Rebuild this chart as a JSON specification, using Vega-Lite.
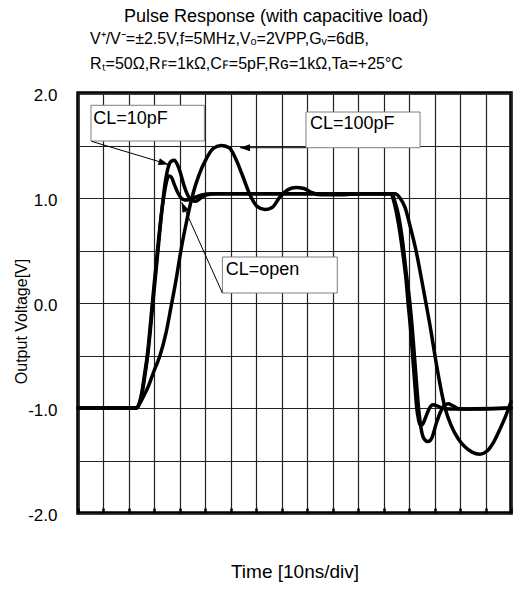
{
  "$schema": "https://vega.github.io/schema/vega-lite/v6.json",
  "background": "white",
  "padding": {"left": 11, "top": 8, "right": 2, "bottom": 2},
  "title": {"text": "Pulse Response (with capacitive load)", "anchor": "start", "frame": "group", "dx": 46, "fontSize": 18, "fontWeight": "normal", "font": "Liberation Sans", "color": "black", "offset": 3},
  "vconcat": [
    {
      "width": 433,
      "height": 420,
      "title": {
        "text": ["V⁺/V⁻=±2.5V,f=5MHz,Vₒ=2VPP,Gᵥ=6dB,", "Rₜ=50Ω,Rꜰ=1kΩ,Cꜰ=5pF,Rɢ=1kΩ,Ta=+25°C"],
        "anchor": "start", "frame": "group", "dx": 12, "fontSize": 16, "lineHeight": 25, "fontWeight": "normal", "font": "Liberation Sans", "color": "black", "offset": 14
      },
      "encoding": {
        "x": {"field": "t", "type": "quantitative",
          "scale": {"domain": [0, 17], "nice": false, "zero": false},
          "axis": {"title": "Time [10ns/div]", "values": [0,1,2,3,4,5,6,7,8,9,10,11,12,13,14,15,16,17], "grid": true, "labels": false, "ticks": true, "tickSize": -5, "tickWidth": 2.5, "tickColor": "black", "domain": false, "gridColor": "#222", "gridWidth": 1.2, "titleFontSize": 19, "titleFontWeight": "normal", "titleColor": "black", "titleFont": "Liberation Sans", "titlePadding": 48}},
        "y": {"field": "v", "type": "quantitative",
          "scale": {"domain": [-2, 2], "nice": false, "zero": false},
          "axis": {"title": "Output Voltage[V]", "values": [-2,-1.5,-1,-0.5,0,0.5,1,1.5,2], "grid": true, "ticks": false, "domain": false, "gridColor": "#222", "gridWidth": 1.2, "labelOverlap": false,
            "labelExpr": "datum.value % 1 === 0 ? (datum.value < 0 ? '-' + format(-datum.value, '.1f') : format(datum.value, '.1f')) : ''",
            "labelFontSize": 17, "labelColor": "black", "labelFont": "Liberation Sans", "labelPadding": 21, "labelOffset": 2,
            "titleFontSize": 16, "titleFontWeight": "normal", "titleColor": "black", "titleFont": "Liberation Sans", "titleX": -57, "titleY": 228, "titleAlign": "center", "titleBaseline": "middle"}}
      },
      "layer": [
        {
          "data": {"values": [
            {"s":"open","t":0,"v":-1.0},{"s":"open","t":1.0,"v":-1.0},{"s":"open","t":2.3,"v":-1.0},{"s":"open","t":2.4,"v":-0.96},{"s":"open","t":2.5,"v":-0.86},{"s":"open","t":2.6,"v":-0.7},{"s":"open","t":2.72,"v":-0.5},{"s":"open","t":2.92,"v":0.0},{"s":"open","t":3.12,"v":0.5},{"s":"open","t":3.26,"v":0.82},{"s":"open","t":3.36,"v":1.0},{"s":"open","t":3.46,"v":1.14},{"s":"open","t":3.56,"v":1.21},{"s":"open","t":3.66,"v":1.2},{"s":"open","t":3.78,"v":1.13},{"s":"open","t":3.92,"v":1.05},{"s":"open","t":4.1,"v":0.99},{"s":"open","t":4.3,"v":0.98},{"s":"open","t":4.55,"v":1.0},{"s":"open","t":4.85,"v":1.03},{"s":"open","t":5.3,"v":1.04},{"s":"open","t":8.0,"v":1.04},{"s":"open","t":12.29,"v":1.04},{"s":"open","t":12.41,"v":0.96},{"s":"open","t":12.52,"v":0.84},{"s":"open","t":12.64,"v":0.67},{"s":"open","t":12.76,"v":0.46},{"s":"open","t":12.88,"v":0.22},{"s":"open","t":12.96,"v":0.0},{"s":"open","t":13.06,"v":-0.26},{"s":"open","t":13.14,"v":-0.51},{"s":"open","t":13.22,"v":-0.76},{"s":"open","t":13.3,"v":-1.0},{"s":"open","t":13.37,"v":-1.11},{"s":"open","t":13.43,"v":-1.16},{"s":"open","t":13.51,"v":-1.16},{"s":"open","t":13.63,"v":-1.1},{"s":"open","t":13.78,"v":-1.01},{"s":"open","t":13.94,"v":-0.97},{"s":"open","t":14.1,"v":-0.98},{"s":"open","t":14.29,"v":-1.0},{"s":"open","t":14.61,"v":-1.01},{"s":"open","t":17,"v":-1.0},
            {"s":"10pF","t":0,"v":-1.0},{"s":"10pF","t":1.0,"v":-1.0},{"s":"10pF","t":2.3,"v":-1.0},{"s":"10pF","t":2.42,"v":-0.95},{"s":"10pF","t":2.53,"v":-0.84},{"s":"10pF","t":2.64,"v":-0.67},{"s":"10pF","t":2.76,"v":-0.45},{"s":"10pF","t":2.96,"v":0.05},{"s":"10pF","t":3.16,"v":0.55},{"s":"10pF","t":3.3,"v":0.9},{"s":"10pF","t":3.42,"v":1.14},{"s":"10pF","t":3.54,"v":1.29},{"s":"10pF","t":3.66,"v":1.35},{"s":"10pF","t":3.78,"v":1.36},{"s":"10pF","t":3.9,"v":1.32},{"s":"10pF","t":4.02,"v":1.24},{"s":"10pF","t":4.16,"v":1.12},{"s":"10pF","t":4.3,"v":1.03},{"s":"10pF","t":4.45,"v":0.98},{"s":"10pF","t":4.62,"v":0.97},{"s":"10pF","t":4.82,"v":1.0},{"s":"10pF","t":5.05,"v":1.03},{"s":"10pF","t":5.4,"v":1.04},{"s":"10pF","t":8.0,"v":1.04},{"s":"10pF","t":12.33,"v":1.04},{"s":"10pF","t":12.45,"v":0.96},{"s":"10pF","t":12.56,"v":0.86},{"s":"10pF","t":12.72,"v":0.63},{"s":"10pF","t":12.88,"v":0.3},{"s":"10pF","t":13.03,"v":0.0},{"s":"10pF","t":13.13,"v":-0.26},{"s":"10pF","t":13.21,"v":-0.51},{"s":"10pF","t":13.29,"v":-0.76},{"s":"10pF","t":13.37,"v":-1.0},{"s":"10pF","t":13.46,"v":-1.18},{"s":"10pF","t":13.58,"v":-1.29},{"s":"10pF","t":13.74,"v":-1.32},{"s":"10pF","t":13.9,"v":-1.28},{"s":"10pF","t":14.05,"v":-1.16},{"s":"10pF","t":14.21,"v":-1.05},{"s":"10pF","t":14.37,"v":-0.98},{"s":"10pF","t":14.53,"v":-0.96},{"s":"10pF","t":14.72,"v":-0.98},{"s":"10pF","t":15.0,"v":-1.01},{"s":"10pF","t":15.78,"v":-1.01},{"s":"10pF","t":17,"v":-1.0},
            {"s":"100pF","t":0,"v":-1.0},{"s":"100pF","t":1.0,"v":-1.0},{"s":"100pF","t":2.3,"v":-1.0},{"s":"100pF","t":2.42,"v":-0.96},{"s":"100pF","t":2.55,"v":-0.9},{"s":"100pF","t":2.75,"v":-0.8},{"s":"100pF","t":2.98,"v":-0.65},{"s":"100pF","t":3.22,"v":-0.5},{"s":"100pF","t":3.46,"v":-0.28},{"s":"100pF","t":3.65,"v":-0.04},{"s":"100pF","t":3.85,"v":0.22},{"s":"100pF","t":4.04,"v":0.5},{"s":"100pF","t":4.24,"v":0.75},{"s":"100pF","t":4.48,"v":1.01},{"s":"100pF","t":4.75,"v":1.22},{"s":"100pF","t":5.03,"v":1.37},{"s":"100pF","t":5.3,"v":1.47},{"s":"100pF","t":5.61,"v":1.5},{"s":"100pF","t":5.93,"v":1.48},{"s":"100pF","t":6.2,"v":1.37},{"s":"100pF","t":6.48,"v":1.2},{"s":"100pF","t":6.75,"v":1.03},{"s":"100pF","t":7.03,"v":0.92},{"s":"100pF","t":7.34,"v":0.89},{"s":"100pF","t":7.62,"v":0.91},{"s":"100pF","t":7.93,"v":1.01},{"s":"100pF","t":8.25,"v":1.08},{"s":"100pF","t":8.56,"v":1.1},{"s":"100pF","t":8.87,"v":1.09},{"s":"100pF","t":9.19,"v":1.05},{"s":"100pF","t":9.58,"v":1.03},{"s":"100pF","t":10.29,"v":1.03},{"s":"100pF","t":11.07,"v":1.04},{"s":"100pF","t":12.45,"v":1.04},{"s":"100pF","t":12.64,"v":1.0},{"s":"100pF","t":12.84,"v":0.91},{"s":"100pF","t":13.03,"v":0.74},{"s":"100pF","t":13.27,"v":0.5},{"s":"100pF","t":13.47,"v":0.25},{"s":"100pF","t":13.66,"v":0.0},{"s":"100pF","t":13.86,"v":-0.27},{"s":"100pF","t":14.02,"v":-0.51},{"s":"100pF","t":14.21,"v":-0.77},{"s":"100pF","t":14.41,"v":-1.0},{"s":"100pF","t":14.64,"v":-1.16},{"s":"100pF","t":14.92,"v":-1.29},{"s":"100pF","t":15.19,"v":-1.37},{"s":"100pF","t":15.47,"v":-1.42},{"s":"100pF","t":15.78,"v":-1.44},{"s":"100pF","t":16.06,"v":-1.41},{"s":"100pF","t":16.33,"v":-1.32},{"s":"100pF","t":16.57,"v":-1.2},{"s":"100pF","t":16.77,"v":-1.09},{"s":"100pF","t":17,"v":-0.94}
          ]},
          "mark": {"type": "line", "color": "black", "strokeWidth": 3.5, "interpolate": "monotone", "strokeJoin": "round", "strokeCap": "round"},
          "encoding": {"detail": {"field": "s", "type": "nominal"}}
        },
        {
          "data": {"values": [
            {"t": 0.51, "t2": 4.96, "v": 1.883, "v2": 1.543},
            {"t": 8.95, "t2": 13.43, "v": 1.819, "v2": 1.479},
            {"t": 5.67, "t2": 10.18, "v": 0.438, "v2": 0.095}
          ]},
          "mark": {"type": "rect", "fill": "white", "stroke": "#7f7f7f", "strokeWidth": 1},
          "encoding": {"x2": {"field": "t2"}, "y2": {"field": "v2"}}
        },
        {
          "data": {"values": [
            {"t": 0.6, "v": 1.708, "label": "CL=10pF"},
            {"t": 9.11, "v": 1.654, "label": "CL=100pF"},
            {"t": 5.8, "v": 0.27, "label": "CL=open"}
          ]},
          "mark": {"type": "text", "align": "left", "baseline": "alphabetic", "fontSize": 18, "font": "Liberation Sans", "color": "black"},
          "encoding": {"text": {"field": "label"}}
        },
        {
          "data": {"values": [
            {"t": 0.53, "v": 1.54, "t2": 3.55, "v2": 1.32},
            {"t": 8.95, "v": 1.479, "t2": 6.36, "v2": 1.479},
            {"t": 5.67, "v": 0.095, "t2": 4.07, "v2": 0.96}
          ]},
          "mark": {"type": "rule", "color": "black", "strokeWidth": 1},
          "encoding": {"x2": {"field": "t2"}, "y2": {"field": "v2"}}
        },
        {
          "data": {"values": [
            {"t": 3.55, "v": 1.32, "ang": 106.6},
            {"t": 6.36, "v": 1.479, "ang": 270},
            {"t": 4.07, "v": 0.96, "ang": 336}
          ]},
          "mark": {"type": "point", "shape": "M0,0L-0.35,1L0.35,1Z", "filled": true, "color": "black", "size": 400, "opacity": 1},
          "encoding": {"angle": {"field": "ang", "type": "quantitative", "scale": null}}
        }
      ]
    }
  ],
  "config": {
    "view": {"stroke": "black", "strokeWidth": 3.5},
    "font": "Liberation Sans"
  }
}
